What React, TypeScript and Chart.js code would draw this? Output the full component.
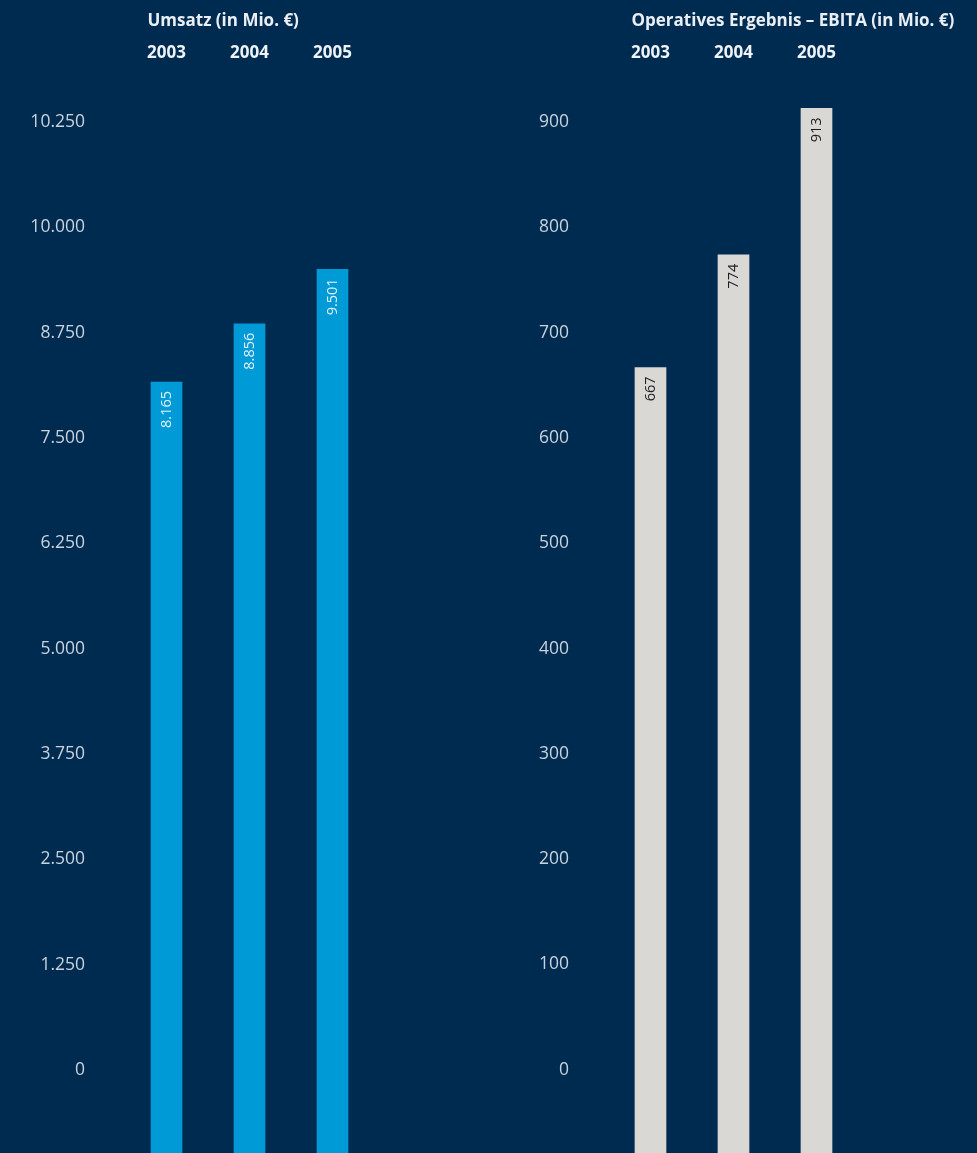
import React, { useEffect, useRef } from "react";
import { Chart, registerables } from "chart.js";

Chart.register(...registerables);

// ---------- data ----------
const years = ["2003", "2004", "2005"];

const umsatzTitle = "Umsatz (in Mio. €)";
const umsatzValues = [8165, 8856, 9501];
const umsatzValueLabels = ["8.165", "8.856", "9.501"];
const umsatzTickValues = [0, 1250, 2500, 3750, 5000, 6250, 7500, 8750, 10000, 11250];
const umsatzTickLabels = ["0", "1.250", "2.500", "3.750", "5.000", "6.250", "7.500", "8.750", "10.000", "10.250"];
const umsatzMin = -985;
const umsatzMax = 11511;

const ebitaTitle = "Operatives Ergebnis – EBITA (in Mio. €)";
const ebitaValues = [667, 774, 913];
const ebitaValueLabels = ["667", "774", "913"];
const ebitaTickValues = [0, 100, 200, 300, 400, 500, 600, 700, 800, 900];
const ebitaTickLabels = ["0", "100", "200", "300", "400", "500", "600", "700", "800", "900"];
const ebitaMin = -79;
const ebitaMax = 921;

// ---------- styles ----------
const BG = "#002b51";
const FONT = "'Open Sans', 'DejaVu Sans', sans-serif";

const sideTitlePlugin = {
  id: "sideTitle",
  afterDraw(chart: any, _args: any, opts: any) {
    const ctx = chart.ctx;
    const x = chart.scales.x.getPixelForValue(0) - opts.offset;
    ctx.save();
    ctx.font = `bold ${opts.size}px ${FONT}`;
    ctx.fillStyle = opts.color;
    ctx.textAlign = "left";
    ctx.textBaseline = "middle";
    ctx.fillText(opts.text, x, opts.y);
    ctx.restore();
  },
};

const valueLabelPlugin = {
  id: "valueLabels",
  afterDatasetsDraw(chart: any, _args: any, opts: any) {
    const ctx = chart.ctx;
    const meta = chart.getDatasetMeta(0);
    meta.data.forEach((bar: any, i: number) => {
      ctx.save();
      ctx.translate(bar.x, bar.y + opts.gap);
      ctx.rotate(-Math.PI / 2);
      ctx.font = `${opts.size}px ${FONT}`;
      ctx.fillStyle = opts.color;
      ctx.textAlign = "right";
      ctx.textBaseline = "middle";
      ctx.fillText(opts.labels[i], 0, 0);
      ctx.restore();
    });
  },
};

type PanelProps = {
  width: number;
  height: number;
  title: string;
  values: number[];
  valueLabels: string[];
  tickValues: number[];
  tickLabels: string[];
  min: number;
  max: number;
  barColor: string;
  labelColor: string;
  rightPad: number;
};

function Panel(p: PanelProps) {
  const ref = useRef<HTMLCanvasElement | null>(null);

  useEffect(() => {
    if (!ref.current) return;
    const chart = new Chart(ref.current, {
      type: "bar",
      data: {
        labels: years,
        datasets: [
          {
            data: p.values,
            backgroundColor: p.barColor,
            borderWidth: 0,
            barThickness: 31,
            base: p.min,
          } as any,
        ],
      },
      options: {
        responsive: false,
        animation: false,
        devicePixelRatio: 1,
        layout: { padding: { left: 0, right: p.rightPad, top: 0, bottom: 0 } },
        plugins: {
          legend: { display: false },
          tooltip: { enabled: false },
          title: { display: false },
          sideTitle: { text: p.title, y: 21, offset: 19, size: 17, color: "#e9eff4" },
          valueLabels: { labels: p.valueLabels, gap: 9, size: 14.5, color: p.labelColor },
        } as any,
        scales: {
          x: {
            type: "category",
            position: "top",
            offset: true,
            grid: { display: false, drawTicks: false },
            border: { display: false },
            ticks: {
              color: "#eef3f7",
              font: { family: FONT, size: 17, weight: "bold" },
              padding: 37,
              maxRotation: 0,
              autoSkip: false,
            },
            afterFit: (s: any) => {
              s.height = 100;
              s.paddingLeft = 0;
              s.paddingRight = 0;
            },
          },
          y: {
            type: "linear",
            min: p.min,
            max: p.max,
            bounds: "data",
            grid: { display: false, drawTicks: false },
            border: { display: false },
            ticks: {
              color: "#c8d3dd",
              font: { family: FONT, size: 17.5 },
              padding: 40,
              autoSkip: false,
              callback: (v: any) => {
                const idx = p.tickValues.indexOf(Number(v));
                return idx >= 0 ? p.tickLabels[idx] : "";
              },
            },
            afterBuildTicks: (s: any) => {
              s.ticks = p.tickValues.map((v) => ({ value: v }));
            },
            afterFit: (s: any) => {
              s.width = 125;
              s.paddingTop = 0;
              s.paddingBottom = 0;
            },
          },
        },
      } as any,
      plugins: [sideTitlePlugin, valueLabelPlugin],
    });
    return () => chart.destroy();
  }, []);

  return (
    <canvas
      ref={ref}
      width={p.width}
      height={p.height}
      style={{ display: "block", width: p.width, height: p.height }}
    />
  );
}

export default function App() {
  return (
    <div style={{ width: 977, height: 1153, background: BG, display: "flex", overflow: "hidden" }}>
      <style>{`html,body{margin:0;padding:0;background:${BG};overflow:hidden;}`}</style>
      <Panel
        width={484}
        height={1153}
        title={umsatzTitle}
        values={umsatzValues}
        valueLabels={umsatzValueLabels}
        tickValues={umsatzTickValues}
        tickLabels={umsatzTickLabels}
        min={umsatzMin}
        max={umsatzMax}
        barColor="#009ad6"
        labelColor="#e4f1f9"
        rightPad={110}
      />
      <Panel
        width={493}
        height={1153}
        title={ebitaTitle}
        values={ebitaValues}
        valueLabels={ebitaValueLabels}
        tickValues={ebitaTickValues}
        tickLabels={ebitaTickLabels}
        min={ebitaMin}
        max={ebitaMax}
        barColor="#dad8d4"
        labelColor="#1e1e1e"
        rightPad={119}
      />
    </div>
  );
}
